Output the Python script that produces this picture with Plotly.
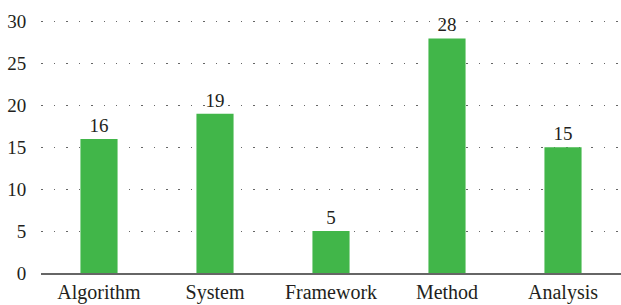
import plotly.graph_objects as go

categories = ["Algorithm", "System", "Framework", "Method", "Analysis"]
values = [16, 19, 5, 28, 15]
y_ticks = [0, 5, 10, 15, 20, 25, 30]

font_family = "Liberation Serif, DejaVu Serif, serif"
text_color = "#231f20"

fig = go.Figure(go.Bar(
    x=categories, y=values,
    marker=dict(color="#41b649", line=dict(width=0)),
    text=[str(v) for v in values],
    textposition="outside",
    textfont=dict(family=font_family, size=19, color=text_color),
    cliponaxis=False,
))

fig.update_layout(
    width=621, height=305,
    margin=dict(l=41, r=0, t=20, b=32, autoexpand=False),
    paper_bgcolor="white", plot_bgcolor="white",
    bargap=0.68,
    showlegend=False,
    font=dict(family=font_family, size=18, color=text_color),
)
fig.update_xaxes(
    showgrid=False, automargin=False,
    showline=True, linecolor="#666666", linewidth=2,
    ticks="", tickfont=dict(family=font_family, size=20, color=text_color),
)
fig.update_yaxes(
    range=[0, 30.2], tickvals=y_ticks, automargin=False,
    showgrid=True, gridcolor="#666666", gridwidth=1, griddash="1.5px,11px",
    zeroline=False, showline=False,
    ticks="outside", ticklen=10, tickcolor="rgba(0,0,0,0)",
    tickfont=dict(family=font_family, size=19, color=text_color),
)

fig.write_html(
    "out.html",
    config={"displayModeBar": False},
    post_script="document.body.style.margin='0';document.body.style.overflow='hidden';",
)
